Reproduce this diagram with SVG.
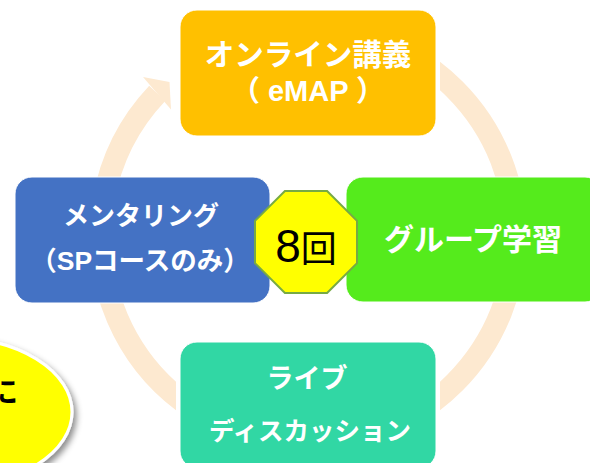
<svg xmlns="http://www.w3.org/2000/svg" width="590" height="463" viewBox="0 0 590 463">
<defs>
<style>
.lbl{font-family:"Liberation Sans","Noto Sans CJK JP",sans-serif;font-weight:bold;fill:#FFFFFF;text-anchor:middle}
.ring{fill:none;stroke:#FDE9D0;stroke-width:22;stroke-linecap:butt}
.box{stroke:#FFFFFF;stroke-width:1}
</style>
<clipPath id="clipL"><rect x="0" y="0" width="176" height="463"/></clipPath>
<clipPath id="clipR"><rect x="440" y="0" width="150" height="463"/></clipPath>
<filter id="shadow" x="-30%" y="-30%" width="160%" height="160%">
<feDropShadow dx="3" dy="4" stdDeviation="3" flood-color="#000000" flood-opacity="0.45"/>
</filter>
</defs>
<rect width="590" height="463" fill="#FFFFFF"/>

<g id="connectors">
<path class="ring" clip-path="url(#clipL)" d="M 308 443.6 A 207.6 207.6 0 0 1 157.2 93.4"/>
<polygon points="143,77 169.5,82 171,109.5" fill="#FDE9D0"/>
<path class="ring" clip-path="url(#clipR)" d="M 308 28.4 A 207.6 207.6 0 0 1 308 443.6"/>
</g>

<g id="callout">
<ellipse cx="-50" cy="412" rx="122" ry="75" fill="#FFFF00" stroke="#FFFFFF" stroke-width="3" filter="url(#shadow)"/>
<text x="-12" y="402" font-family="'Noto Sans CJK JP',sans-serif" font-size="30" font-weight="bold" fill="#000000">に</text>
</g>

<g id="node-top">
<rect class="box" x="180" y="10" width="256" height="126" rx="17" fill="#FFC000"/>
<text class="lbl" x="308" y="65" font-size="29.5">オンライン講義</text>
<text class="lbl" x="308" y="101" font-size="29">（ eMAP ）</text>
</g>

<g id="node-left">
<rect class="box" x="15" y="177" width="255" height="126" rx="17" fill="#4472C4"/>
<text class="lbl" x="141" y="225" font-size="26">メンタリング</text>
<text class="lbl" x="140" y="270" font-size="26.5">（SPコースのみ）</text>
</g>

<g id="node-right">
<rect class="box" x="346" y="177" width="256" height="125" rx="17" fill="#55EB1C"/>
<text class="lbl" x="473" y="250" font-size="30">グループ学習</text>
</g>

<g id="node-bottom">
<rect class="box" x="180" y="342" width="256" height="126" rx="17" fill="#31D7A4"/>
<text class="lbl" x="307" y="388" font-size="27">ライブ</text>
<text class="lbl" x="310" y="440" font-size="25.5">ディスカッション</text>
</g>

<g id="node-center">
<polygon points="284.9,191 327.1,191 357,220.9 357,263.1 327.1,293 284.9,293 255,263.1 255,220.9" fill="#FFFF00" stroke="#77AA44" stroke-width="2"/>
<text x="306" y="262" text-anchor="middle" fill="#000000"><tspan font-family="'Liberation Sans',sans-serif" font-size="46">8</tspan><tspan font-family="'Noto Sans CJK JP',sans-serif" font-size="36">回</tspan></text>
</g>
</svg>
